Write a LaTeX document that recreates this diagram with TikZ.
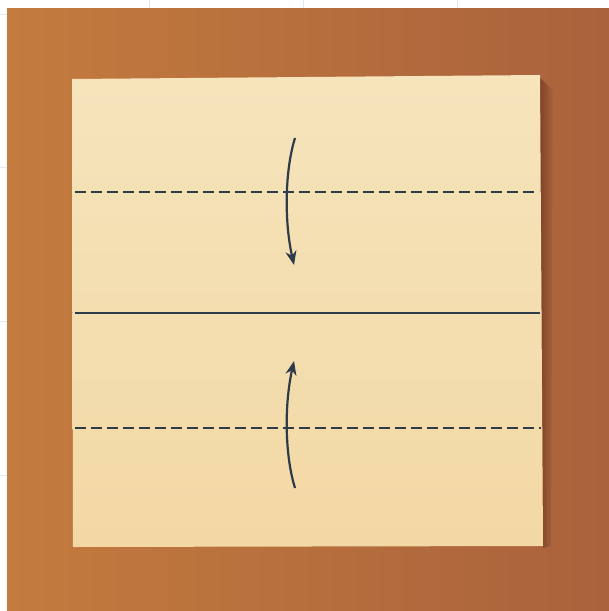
\documentclass[tikz,border=0pt]{standalone}
\usetikzlibrary{arrows.meta}
\definecolor{bgL}{HTML}{C47B3E}
\definecolor{bgR}{HTML}{A9623C}
\definecolor{paperT}{HTML}{F6E4BC}
\definecolor{paperB}{HTML}{F2D8A4}
\definecolor{ink}{HTML}{2E3B49}
\definecolor{grid}{HTML}{DCEAF8}
\definecolor{shadow}{HTML}{7E4529}
\tikzset{
  foldline/.style={ink, line width=2.2pt, dash pattern=on 11pt off 5pt},
  creaseline/.style={ink, line width=2.2pt},
  foldarrow/.style={ink, line width=2.2pt, -{Stealth[length=14pt,width=11pt]}},
  gridline/.style={grid, line width=1pt}
}
\begin{document}
\begin{tikzpicture}[x=1pt,y=-1pt]
\useasboundingbox (0,0) rectangle (609,611);
\fill[white] (0,0) rectangle (609,611);
% faint grid in margins
\foreach \gx in {149,303,457} \draw[gridline] (\gx,0) -- (\gx,8.5);
\foreach \gy in {14,167,321,475} \draw[gridline] (0,\gy) -- (7,\gy);
% background
\shade[left color=bgL, right color=bgR] (7,8.5) rectangle (609,611);
% shadow at right of paper
\shade[left color=shadow, right color=bgR] (540,78) -- (553,90) -- (551,546) -- (543,548) -- cycle;
% paper
\shade[top color=paperT, bottom color=paperB] (72,79) coordinate (tl) -- (540,75) coordinate (tr) -- (543,546) coordinate (br) -- (73,547) coordinate (bl) -- cycle;
% lines
\coordinate (d1a) at (75,192); \coordinate (d1b) at (539,192);
\coordinate (d2a) at (75,428); \coordinate (d2b) at (541,428);
\coordinate (ca) at (75,313); \coordinate (cb) at (540,313);
\draw[foldline] (d1a) -- (d1b);
\draw[foldline] (d2a) -- (d2b);
\draw[creaseline] (ca) -- (cb);
% arrows
\coordinate (a1s) at (295,138); \coordinate (a1e) at (294,265);
\coordinate (a2s) at (295,488); \coordinate (a2e) at (294,361);
\draw[foldarrow] (a1s) .. controls (285,170) and (284,220) .. (a1e);
\draw[foldarrow] (a2s) .. controls (285,456) and (284,406) .. (a2e);
\end{tikzpicture}
\end{document}
